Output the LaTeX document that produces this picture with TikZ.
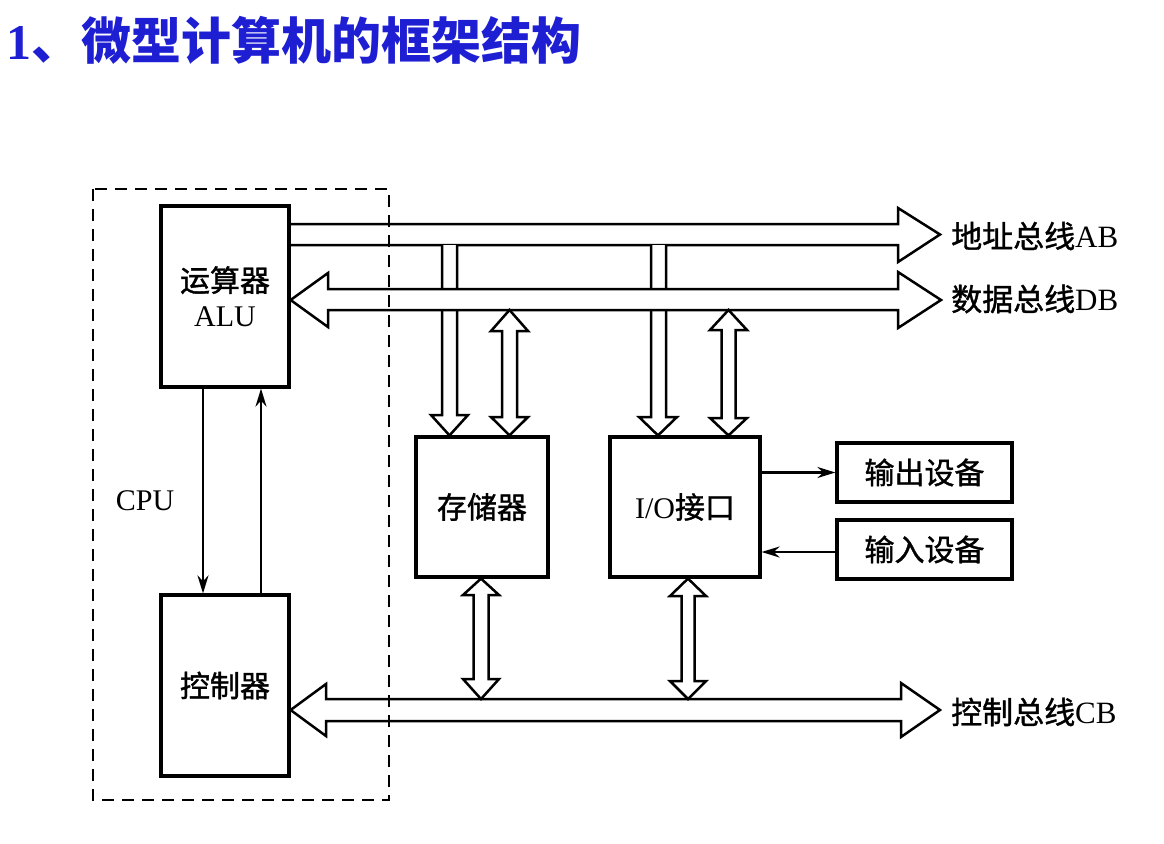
\documentclass[tikz,border=0pt]{standalone}
\usepackage{fontspec}
\setmainfont{Liberation Serif}
\newfontfamily\cjk{Noto Sans CJK SC}[FakeBold=1.2]
\newfontfamily\cjkt{Noto Sans CJK SC}
\usetikzlibrary{arrows.meta,calc}
\definecolor{titleblue}{RGB}{30,30,210}
\begin{document}
\begin{tikzpicture}[x=1pt,y=-1pt,
  box/.style={draw,line width=3.2pt,inner sep=0pt,font=\fontsize{30}{34}\selectfont,align=center},
  bus/.style={line width=2.5pt,line join=miter,fill=white},
  thin/.style={line width=2.2pt,-{Stealth[length=18pt,width=11pt]}},
  lbl/.style={anchor=west,inner sep=0pt,font=\fontsize{31}{34}\selectfont},
  cpubox/.style={line width=2.3pt,dash pattern=on 12pt off 8pt}]
\useasboundingbox (0,0) rectangle (1164,843);
\fill[white] (0,0) rectangle (1164,843);

% title
\node[anchor=west,inner sep=0pt,text=titleblue,font=\fontsize{50}{56}\selectfont\bfseries] (title) at (6,40) {1{\cjkt\bfseries 、微型计算机的框架结构}};

% boxes
\node[box,minimum width=128pt,minimum height=181pt] (alu) at (225,296.5) {{\cjk 运算器}\\[1pt]ALU};
\node[box,minimum width=128pt,minimum height=181pt] (ctrl) at (225,685.5) {\cjk 控制器};
\node[box,minimum width=132pt,minimum height=140pt] (mem) at (482,507) {\cjk 存储器};
\node[box,minimum width=150pt,minimum height=140pt] (io) at (685,507) {I/O{\cjk 接口}};
\node[box,minimum width=175pt,minimum height=59pt] (out) at (924.5,472.5) {\cjk 输出设备};
\node[box,minimum width=175pt,minimum height=59pt] (inp) at (924.5,549.5) {\cjk 输入设备};
\node[anchor=center,inner sep=0pt,font=\fontsize{30}{34}\selectfont] (cpu) at (145,501) {CPU};

% address bus
\draw[bus,fill=none] (alu.east |- 0,224) -- (898,224) -- (898,208) -- (940,234.5) -- (898,262) -- (898,245) -- (alu.east |- 0,245);
\node[lbl] (ab) at (951,236) {{\cjk 地址总线}AB};

% address branches (drawn before data bus so the data bus covers them)
\draw[bus] (442,245) -- (442,415) -- (431,415) -- (mem.north -| 449.5,0) -- (468,415) -- (457,415) -- (457,245);
\draw[bus] (651,245) -- (651,417) -- (639,417) -- (io.north -| 658,0) -- (677,417) -- (666,417) -- (666,245);

% data bus
\draw[bus] (alu.east |- 0,300) -- (328,273) -- (328,289) -- (898,289) -- (898,272) -- (941,300) -- (898,328) -- (898,310) -- (328,310) -- (328,327) -- cycle;
\node[lbl] (db) at (951,299) {{\cjk 数据总线}DB};

% data branches
\draw[bus] (509.5,310) -- (528,331) -- (517,331) -- (517,417) -- (528,417) -- (mem.north -| 509.5,0) -- (491,417) -- (502,417) -- (502,331) -- (491,331) -- cycle;
\draw[bus] (728.5,310) -- (747,330) -- (735.5,330) -- (735.5,418) -- (747,418) -- (io.north -| 728.5,0) -- (710,418) -- (721.5,418) -- (721.5,330) -- (710,330) -- cycle;

% control bus
\draw[bus] (ctrl.east |- 0,710) -- (326,684) -- (326,699) -- (901,699) -- (901,683) -- (940,710) -- (901,737) -- (901,721) -- (326,721) -- (326,736) -- cycle;
\node[lbl] (cb) at (951,712) {{\cjk 控制总线}CB};

% branches to control bus
\draw[bus] (mem.south -| 481,0) -- (499,595) -- (488.5,595) -- (488.5,679) -- (499,679) -- (481,699) -- (463,679) -- (473.5,679) -- (473.5,595) -- (463,595) -- cycle;
\draw[bus] (io.south -| 688,0) -- (706,596) -- (694.5,596) -- (694.5,681) -- (706,681) -- (688,699) -- (670,681) -- (681.5,681) -- (681.5,596) -- (670,596) -- cycle;

% ALU <-> controller
\draw[thin] (alu.south -| 203,0) -- (ctrl.north -| 203,0);
\draw[thin] (ctrl.north -| 261,0) -- (alu.south -| 261,0);

% IO <-> devices
\draw[thin] (io.east |- out.west) -- (out.west);
\draw[thin] (inp.west |- 0,552) -- (io.east |- 0,552);

% CPU dashed frame
\draw[cpubox] (93,189) rectangle (389,800);
\end{tikzpicture}
\end{document}
